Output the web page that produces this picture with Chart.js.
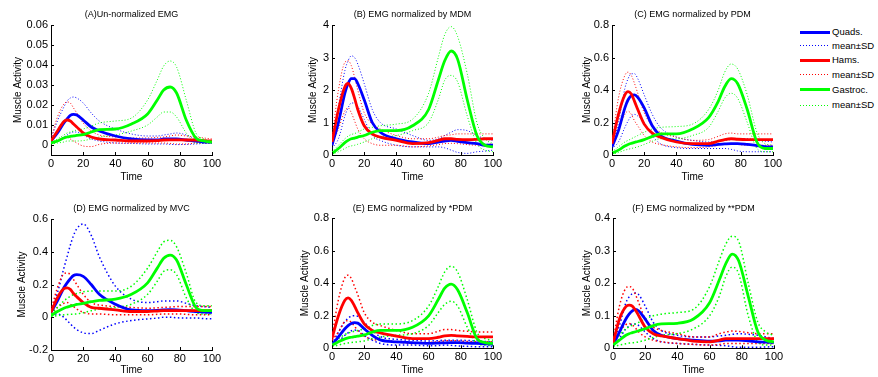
<!DOCTYPE html>
<html>
<head>
<meta charset="utf-8">
<script src="https://cdn.jsdelivr.net/npm/chart.js@4.4.1/dist/chart.umd.min.js"></script>
<style>
  body { margin: 0; background: #fff; width: 878px; height: 377px; overflow: hidden; position: relative;
         font-family: 'Liberation Sans', Arial, sans-serif; }
  canvas { position: absolute; }
  .key { position: absolute; left: 800px; width: 30px; }
  .lab { position: absolute; left: 832px; font-size: 9.5px; line-height: 12px; color: #000; white-space: nowrap; }
</style>
</head>
<body>
<script>
// time axis (% of cycle), shared by all panels
var time = [0, 4, 8, 10, 12, 14, 16, 20, 25, 30, 40, 50, 60, 66, 70, 74, 78, 84, 90, 95, 100];

var panelTitles = ["(A)Un-normalized EMG", "(B) EMG normalized by MDM", "(C) EMG normalized by PDM",
                   "(D) EMG normalized by MVC", "(E) EMG normalized by *PDM", "(F) EMG normalized by **PDM"];
var yMin  = [-0.005, 0, 0, -0.2, 0, 0];
var yMax  = [0.06, 4, 0.8, 0.6, 0.8, 0.4];
var yStep = [0.01, 1, 0.2, 0.2, 0.2, 0.1];
var xTicks = [0, 20, 40, 60, 80, 100];

var legendLabels = ["Quads.", "mean\u00b1SD", "Hams.", "mean\u00b1SD", "Gastroc.", "mean\u00b1SD"];

// (A) un-normalized
var aQuads     = [0.002,0.006,0.011,0.013,0.0148,0.0153,0.015,0.0125,0.009,0.007,0.0045,0.003,0.0025,0.0025,0.003,0.003,0.003,0.0025,0.002,0.0015,0.0015];
var aQuadsHi   = [0.003,0.012,0.019,0.022,0.0235,0.024,0.0235,0.021,0.016,0.012,0.008,0.0055,0.0045,0.0045,0.005,0.0055,0.006,0.005,0.003,0.0025,0.002];
var aQuadsLo   = [0.001,0.002,0.004,0.005,0.006,0.0065,0.0065,0.005,0.003,0.002,0.001,0.0008,0.0005,0.0005,0.0005,0.0003,0.0002,0.0003,0.0005,0.0008,0.001];
var aHams      = [0.002,0.007,0.0118,0.0125,0.012,0.0105,0.009,0.006,0.004,0.003,0.0025,0.002,0.002,0.0022,0.0025,0.0026,0.0026,0.0025,0.0025,0.0022,0.002];
var aHamsHi    = [0.003,0.014,0.0205,0.0215,0.021,0.0185,0.016,0.011,0.007,0.005,0.004,0.0035,0.0035,0.0038,0.004,0.0045,0.005,0.0045,0.004,0.0035,0.003];
var aHamsLo    = [0.001,0.002,0.0035,0.004,0.003,0.002,0.001,-0.0005,-0.0008,0.0003,0.001,0.001,0.001,0.001,0.001,0.0008,0.0005,0.0005,0.001,0.001,0.001];
var aGastroc   = [0.001,0.002,0.0035,0.004,0.0043,0.0046,0.0048,0.0052,0.0065,0.0077,0.008,0.0105,0.0155,0.0225,0.0275,0.029,0.026,0.0125,0.0035,0.002,0.0015];
var aGastrocHi = [0.0012,0.003,0.005,0.006,0.0065,0.007,0.0075,0.008,0.0095,0.011,0.012,0.0135,0.0225,0.0325,0.0395,0.042,0.039,0.0225,0.006,0.003,0.002];
var aGastrocLo = [0.0005,0.001,0.0015,0.002,0.002,0.002,0.002,0.0022,0.003,0.004,0.005,0.007,0.01,0.014,0.0165,0.0165,0.014,0.006,0.001,0.001,0.001];

// (B) MDM
var bQuads     = [0.3,1.0,1.9,2.2,2.35,2.35,2.2,1.7,1.0,0.7,0.5,0.4,0.35,0.4,0.43,0.45,0.42,0.38,0.35,0.3,0.3];
var bQuadsHi   = [0.4,1.5,2.6,2.9,3.05,3.0,2.8,2.2,1.4,1.0,0.8,0.6,0.45,0.5,0.6,0.7,0.78,0.75,0.6,0.5,0.45];
var bQuadsLo   = [0.2,0.5,1.2,1.45,1.6,1.6,1.5,1.1,0.6,0.45,0.3,0.25,0.25,0.25,0.22,0.15,0.08,0.05,0.1,0.12,0.15];
var bHams      = [0.4,1.4,2.1,2.2,2.05,1.75,1.4,0.9,0.65,0.55,0.45,0.35,0.38,0.45,0.5,0.5,0.48,0.47,0.48,0.5,0.5];
var bHamsHi    = [0.5,2.0,2.85,2.9,2.75,2.4,2.0,1.3,0.95,0.8,0.6,0.5,0.5,0.55,0.6,0.62,0.65,0.65,0.65,0.65,0.65];
var bHamsLo    = [0.3,0.8,1.35,1.45,1.3,1.05,0.8,0.5,0.35,0.3,0.3,0.25,0.28,0.32,0.35,0.36,0.35,0.32,0.3,0.32,0.35];
var bGastroc   = [0.05,0.2,0.38,0.45,0.5,0.52,0.55,0.6,0.7,0.75,0.75,0.9,1.4,2.3,2.9,3.2,2.95,1.7,0.6,0.3,0.25];
var bGastrocHi = [0.1,0.3,0.5,0.58,0.63,0.66,0.7,0.8,0.85,0.9,0.95,1.1,1.9,3.0,3.7,3.95,3.65,2.5,1.0,0.5,0.35];
var bGastrocLo = [0.03,0.1,0.2,0.25,0.28,0.3,0.33,0.4,0.5,0.55,0.6,0.75,1.0,1.7,2.3,2.45,2.25,1.2,0.35,0.15,0.1];

// (C) PDM
var cQuads     = [0.05,0.15,0.29,0.34,0.365,0.37,0.355,0.29,0.18,0.12,0.085,0.065,0.06,0.065,0.068,0.07,0.07,0.065,0.058,0.052,0.05];
var cQuadsHi   = [0.06,0.2,0.41,0.47,0.5,0.5,0.47,0.37,0.25,0.17,0.11,0.09,0.08,0.085,0.09,0.095,0.1,0.1,0.09,0.085,0.08];
var cQuadsLo   = [0.04,0.08,0.17,0.21,0.24,0.25,0.24,0.2,0.12,0.07,0.045,0.04,0.04,0.04,0.04,0.035,0.025,0.02,0.02,0.02,0.02];
var cHams      = [0.07,0.25,0.37,0.39,0.375,0.33,0.28,0.19,0.135,0.11,0.08,0.07,0.07,0.085,0.095,0.1,0.097,0.095,0.095,0.095,0.095];
var cHamsHi    = [0.08,0.35,0.49,0.51,0.49,0.44,0.38,0.26,0.18,0.14,0.11,0.09,0.095,0.115,0.13,0.135,0.13,0.13,0.13,0.13,0.13];
var cHamsLo    = [0.06,0.15,0.25,0.27,0.25,0.21,0.18,0.12,0.08,0.065,0.05,0.045,0.05,0.06,0.07,0.07,0.065,0.06,0.06,0.06,0.06];
var cGastroc   = [0.01,0.03,0.055,0.065,0.072,0.078,0.083,0.095,0.115,0.13,0.13,0.16,0.23,0.33,0.42,0.47,0.44,0.28,0.08,0.04,0.04];
var cGastrocHi = [0.02,0.05,0.08,0.09,0.1,0.11,0.12,0.14,0.16,0.17,0.175,0.19,0.28,0.4,0.51,0.56,0.53,0.37,0.14,0.07,0.06];
var cGastrocLo = [0.005,0.015,0.03,0.035,0.04,0.045,0.05,0.065,0.085,0.1,0.1,0.12,0.17,0.27,0.35,0.38,0.35,0.2,0.04,0.02,0.02];

// (D) MVC
var dQuads     = [0.03,0.1,0.18,0.21,0.235,0.255,0.26,0.25,0.2,0.14,0.08,0.045,0.04,0.042,0.045,0.046,0.045,0.04,0.035,0.032,0.03];
var dQuadsHi   = [0.04,0.15,0.3,0.37,0.44,0.5,0.54,0.57,0.5,0.37,0.19,0.11,0.09,0.095,0.1,0.1,0.1,0.085,0.07,0.065,0.06];
var dQuadsLo   = [0.02,0.02,0.0,-0.02,-0.04,-0.06,-0.075,-0.095,-0.1,-0.08,-0.04,-0.02,-0.01,-0.005,0.0,0.0,-0.003,-0.005,-0.005,-0.008,-0.01];
var dHams      = [0.03,0.12,0.175,0.18,0.17,0.145,0.125,0.09,0.06,0.055,0.045,0.035,0.035,0.038,0.04,0.04,0.04,0.04,0.04,0.04,0.04];
var dHamsHi    = [0.04,0.18,0.265,0.27,0.26,0.23,0.2,0.14,0.09,0.075,0.065,0.06,0.055,0.058,0.06,0.062,0.065,0.065,0.065,0.065,0.065];
var dHamsLo    = [0.02,0.06,0.085,0.09,0.08,0.065,0.05,0.03,0.02,0.02,0.015,0.015,0.015,0.018,0.02,0.02,0.02,0.018,0.015,0.015,0.015];
var dGastroc   = [0.01,0.035,0.055,0.062,0.068,0.073,0.078,0.085,0.095,0.103,0.11,0.14,0.21,0.3,0.36,0.38,0.35,0.2,0.06,0.04,0.04];
var dGastrocHi = [0.02,0.06,0.1,0.115,0.128,0.138,0.145,0.155,0.16,0.16,0.16,0.19,0.3,0.4,0.46,0.47,0.43,0.27,0.09,0.07,0.07];
var dGastrocLo = [0.005,0.01,0.015,0.017,0.018,0.019,0.02,0.028,0.04,0.05,0.06,0.08,0.14,0.22,0.28,0.29,0.26,0.12,0.03,0.02,0.02];

// (E) *PDM
var eQuads     = [0.02,0.07,0.12,0.14,0.153,0.158,0.155,0.12,0.08,0.052,0.04,0.035,0.03,0.032,0.034,0.035,0.035,0.032,0.03,0.027,0.025];
var eQuadsHi   = [0.025,0.1,0.165,0.185,0.198,0.2,0.197,0.16,0.11,0.072,0.055,0.05,0.045,0.047,0.05,0.05,0.05,0.048,0.045,0.042,0.04];
var eQuadsLo   = [0.015,0.04,0.08,0.095,0.108,0.112,0.11,0.08,0.05,0.03,0.02,0.02,0.015,0.017,0.02,0.018,0.015,0.012,0.01,0.01,0.01];
var eHams      = [0.06,0.2,0.295,0.31,0.295,0.26,0.22,0.15,0.11,0.095,0.075,0.06,0.06,0.068,0.077,0.08,0.077,0.073,0.07,0.07,0.07];
var eHamsHi    = [0.07,0.3,0.435,0.45,0.43,0.38,0.33,0.22,0.16,0.14,0.11,0.09,0.09,0.105,0.115,0.115,0.11,0.105,0.1,0.1,0.1];
var eHamsLo    = [0.05,0.1,0.165,0.17,0.16,0.135,0.11,0.075,0.055,0.05,0.04,0.03,0.035,0.04,0.045,0.047,0.045,0.042,0.04,0.04,0.04];
var eGastroc   = [0.02,0.04,0.058,0.064,0.068,0.072,0.075,0.082,0.1,0.11,0.11,0.13,0.2,0.3,0.37,0.395,0.36,0.22,0.06,0.035,0.03];
var eGastrocHi = [0.03,0.06,0.085,0.093,0.1,0.105,0.11,0.12,0.14,0.15,0.15,0.17,0.26,0.38,0.47,0.505,0.47,0.3,0.1,0.06,0.05];
var eGastrocLo = [0.01,0.02,0.03,0.033,0.036,0.038,0.04,0.045,0.06,0.07,0.08,0.09,0.14,0.22,0.27,0.29,0.26,0.13,0.03,0.02,0.015];

// (F) **PDM
var fQuads     = [0.01,0.05,0.09,0.105,0.115,0.12,0.115,0.09,0.055,0.04,0.03,0.025,0.022,0.023,0.025,0.025,0.025,0.023,0.02,0.019,0.018];
var fQuadsHi   = [0.015,0.07,0.14,0.158,0.168,0.17,0.165,0.13,0.08,0.055,0.04,0.035,0.035,0.038,0.04,0.043,0.045,0.043,0.04,0.035,0.03];
var fQuadsLo   = [0.005,0.03,0.06,0.068,0.075,0.075,0.07,0.05,0.03,0.02,0.015,0.012,0.01,0.009,0.008,0.005,0.003,0.003,0.003,0.004,0.005];
var fHams      = [0.015,0.09,0.128,0.133,0.13,0.117,0.1,0.065,0.045,0.038,0.03,0.022,0.02,0.025,0.03,0.03,0.03,0.03,0.03,0.03,0.03];
var fHamsHi    = [0.02,0.13,0.185,0.19,0.185,0.165,0.14,0.09,0.065,0.055,0.045,0.035,0.035,0.045,0.05,0.053,0.052,0.048,0.045,0.045,0.045];
var fHamsLo    = [0.01,0.05,0.073,0.076,0.072,0.062,0.05,0.035,0.025,0.02,0.015,0.012,0.01,0.012,0.015,0.015,0.015,0.015,0.015,0.015,0.015];
var fGastroc   = [0.01,0.025,0.04,0.045,0.048,0.051,0.054,0.06,0.07,0.075,0.077,0.09,0.14,0.21,0.26,0.29,0.27,0.16,0.05,0.025,0.02];
var fGastrocHi = [0.02,0.04,0.06,0.066,0.071,0.075,0.08,0.09,0.1,0.105,0.11,0.12,0.19,0.27,0.32,0.345,0.33,0.2,0.08,0.05,0.04];
var fGastrocLo = [0.005,0.01,0.014,0.016,0.017,0.018,0.02,0.025,0.033,0.04,0.045,0.06,0.1,0.16,0.22,0.25,0.23,0.1,0.02,0.01,0.01];

var series = [
  [aQuads, aQuadsHi, aQuadsLo, aHams, aHamsHi, aHamsLo, aGastroc, aGastrocHi, aGastrocLo],
  [bQuads, bQuadsHi, bQuadsLo, bHams, bHamsHi, bHamsLo, bGastroc, bGastrocHi, bGastrocLo],
  [cQuads, cQuadsHi, cQuadsLo, cHams, cHamsHi, cHamsLo, cGastroc, cGastrocHi, cGastrocLo],
  [dQuads, dQuadsHi, dQuadsLo, dHams, dHamsHi, dHamsLo, dGastroc, dGastrocHi, dGastrocLo],
  [eQuads, eQuadsHi, eQuadsLo, eHams, eHamsHi, eHamsLo, eGastroc, eGastrocHi, eGastrocLo],
  [fQuads, fQuadsHi, fQuadsLo, fHams, fHamsHi, fHamsLo, fGastroc, fGastrocHi, fGastrocLo]
];

var colors = ["#0000ff", "#ff0000", "#00ff00"];
var FONT = "'Liberation Sans', Arial, sans-serif";

// where each panel sits on the page (canvas left/top/size, axis widths)
var boxes = [
  { left: 10,  top: 0,   w: 214, h: 185, yW: 41, xH: 30,  tTop: 9.6,  tBot: 4.6, xtBot: 2 },
  { left: 305, top: 0,   w: 200, h: 185, yW: 27, xH: 30,  tTop: 9.6,  tBot: 4.6, xtBot: 2 },
  { left: 579, top: 0,   w: 206, h: 185, yW: 33, xH: 30,  tTop: 9.6,  tBot: 4.6, xtBot: 2 },
  { left: 14,  top: 185, w: 210, h: 192, yW: 37, xH: 27,  tTop: 17.9, tBot: 5.3, xtBot: 1 },
  { left: 297, top: 185, w: 208, h: 192, yW: 35, xH: 28.7, tTop: 17.9, tBot: 4.6, xtBot: 1 },
  { left: 579, top: 185, w: 207, h: 192, yW: 34, xH: 28.7, tTop: 17.9, tBot: 4.6, xtBot: 1 }
];

// MATLAB style ticks pointing into the plot
var inwardTicks = {
  id: "inwardTicks",
  afterDatasetsDraw: function (chart) {
    var ctx = chart.ctx, a = chart.chartArea, xs = chart.scales.x, ys = chart.scales.y;
    ctx.save();
    ctx.strokeStyle = "#000";
    ctx.lineWidth = 1;
    ctx.beginPath();
    xs.ticks.forEach(function (t) {
      var px = Math.round(xs.getPixelForValue(t.value)) + 0.5;
      ctx.moveTo(px, a.bottom); ctx.lineTo(px, a.bottom - 3);
    });
    ys.ticks.forEach(function (t) {
      var py = Math.round(ys.getPixelForValue(t.value)) + 0.5;
      ctx.moveTo(a.left, py); ctx.lineTo(a.left + 3, py);
    });
    ctx.stroke();
    ctx.restore();
  }
};

function makePanel(i) {
  var b = boxes[i];
  var cv = document.createElement("canvas");
  cv.width = b.w; cv.height = b.h;
  cv.style.left = b.left + "px"; cv.style.top = b.top + "px";
  document.body.appendChild(cv);

  var s = series[i];
  var bottomRow = i >= 3;
  var datasets = [];
  // mean lines on top: Chart.js draws first dataset last
  [2, 1, 0].forEach(function (m) {
    datasets.push({ data: s[m * 3], borderColor: colors[m], borderWidth: 2.8 });
  });
  [2, 1, 0].forEach(function (m) {
    [1, 2].forEach(function (k) {
      datasets.push({ data: s[m * 3 + k], borderColor: colors[m],
        borderWidth: bottomRow ? 1.5 : 1, borderDash: bottomRow ? [1.5, 2.5] : [1, 2] });
    });
  });
  datasets.forEach(function (d) {
    d.data = d.data.map(function (v, j) { return { x: time[j], y: v }; });
    d.pointRadius = 0;
    d.fill = false;
    d.cubicInterpolationMode = "monotone";
  });

  new Chart(cv, {
    type: "line",
    data: { datasets: datasets },
    plugins: [inwardTicks],
    options: {
      responsive: false,
      animation: false,
      layout: { padding: { left: 0, right: 12, top: 0, bottom: 0 } },
      plugins: {
        legend: { display: false },
        tooltip: { enabled: false },
        title: { display: true, text: panelTitles[i], fullSize: false, color: "#000",
                 font: { family: FONT, size: 9, weight: "normal" },
                 padding: { top: b.tTop, bottom: b.tBot } }
      },
      scales: {
        x: {
          type: "linear", min: 0, max: 100,
          afterBuildTicks: function (sc) { sc.ticks = xTicks.map(function (v) { return { value: v }; }); },
          ticks: { padding: 2, maxRotation: 0, autoSkip: false, color: "#000", font: { family: FONT, size: 11 } },
          grid: { display: false, drawTicks: false },
          border: { display: true, color: "#000", width: 1 },
          title: { display: true, text: "Time", color: "#000", font: { family: FONT, size: 10 },
                   padding: { top: 0, bottom: b.xtBot } },
          afterFit: function (sc) { sc.height = b.xH; sc.paddingLeft = 0; sc.paddingRight = 0; }
        },
        y: {
          min: yMin[i], max: yMax[i],
          ticks: { stepSize: yStep[i], includeBounds: false, padding: 3, color: "#000", font: { family: FONT, size: 11 } },
          grid: { display: false, drawTicks: false },
          border: { display: true, color: "#000", width: 1 },
          title: { display: true, text: "Muscle Activity", color: "#000", font: { family: FONT, size: 10 },
                   padding: { top: 2, bottom: 0 } },
          afterFit: function (sc) { sc.width = b.yW; sc.paddingTop = 0; sc.paddingBottom = 0; }
        }
      }
    }
  });
}

for (var i = 0; i < 6; i++) makePanel(i);

// legend beside panel C
var legendY = [32.3, 45.7, 60, 74.5, 89.5, 105];
legendLabels.forEach(function (txt, r) {
  var col = colors[Math.floor(r / 2)];
  var solid = r % 2 === 0;
  var line = document.createElement("div");
  line.className = "key";
  if (solid) {
    line.style.top = Math.round(legendY[r] - 1.5) + "px";
    line.style.height = "3px";
    line.style.background = col;
  } else {
    line.style.top = Math.round(legendY[r] - 0.5) + "px";
    line.style.height = "1px";
    line.style.background = "repeating-linear-gradient(to right, " + col + " 0px, " + col + " 1px, transparent 1px, transparent 3px)";
  }
  document.body.appendChild(line);
  var lab = document.createElement("div");
  lab.className = "lab";
  lab.style.top = (legendY[r] - 6) + "px";
  lab.textContent = txt;
  document.body.appendChild(lab);
});
</script>
</body>
</html>
